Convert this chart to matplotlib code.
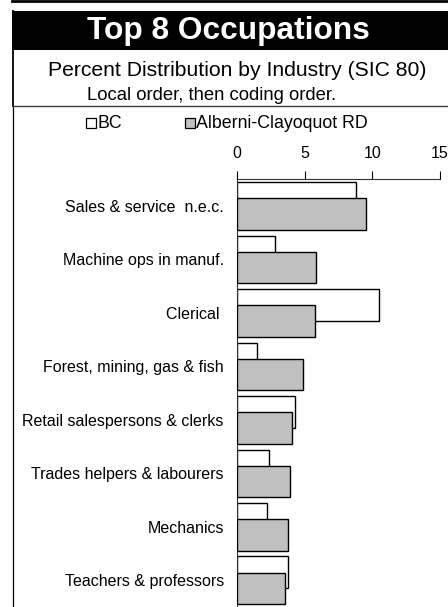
import numpy as np
import matplotlib
matplotlib.use('Agg')
import matplotlib.pyplot as plt
from matplotlib.patches import Rectangle
from matplotlib.lines import Line2D

plt.rcParams['font.family'] = ['Liberation Sans', 'DejaVu Sans']

# data (percent)
occupations = ["Sales & service  n.e.c.", "Machine ops in manuf.", "Clerical ",
               "Forest, mining, gas & fish", "Retail salespersons & clerks",
               "Trades helpers & labourers", "Mechanics", "Teachers & professors"]
bc = [8.8, 2.8, 10.5, 1.45, 4.25, 2.35, 2.25, 3.8]
alberni = [9.5, 5.85, 5.8, 4.85, 4.1, 3.95, 3.75, 3.55]
series_names = ["BC", "Alberni-Clayoquot RD"]
xticks = [0, 5, 10, 15]

W, H = 448, 607
fig = plt.figure(figsize=(W / 100, H / 100), dpi=100)

def fx(px):
    return px / W

def fy(py):
    return 1 - py / H

# frame lines and title banner
fig.add_artist(Line2D([fx(12), 1], [fy(1.3), fy(1.3)], lw=2.0, color='black'))
fig.add_artist(Rectangle((fx(12), fy(50)), 1 - fx(12), fy(11) - fy(50), color='black', lw=0))
fig.add_artist(Line2D([fx(13.3), fx(13.3)], [fy(11), fy(106)], lw=1.3, color='black'))
fig.add_artist(Line2D([fx(13), fx(13)], [fy(106), 0], lw=0.9, color='black'))
fig.add_artist(Line2D([fx(13), 1], [fy(105.8), fy(105.8)], lw=1.0, color='#404040'))

fig.text(fx(228.5), fy(30.5), "Top 8 Occupations", color='white', fontsize=22.8,
         fontweight='bold', ha='center', va='center')
fig.text(fx(237.5), fy(75.7), "Percent Distribution by Industry (SIC 80)",
         fontsize=15.2, ha='center', va='baseline')
fig.text(fx(211.7), fy(100), "Local order, then coding order.",
         fontsize=13.3, ha='center', va='baseline')

# legend drawn by hand
leg_x = [86, 185]
leg_fill = ['white', '#c0c0c0']
for name, lx, fc in zip(series_names, leg_x, leg_fill):
    fig.add_artist(Rectangle((fx(lx), fy(128)), fx(10), fy(118) - fy(128),
                             facecolor=fc, edgecolor='black', lw=0.9))
    fig.text(fx(lx + 11), fy(128.5), name, fontsize=12.8, ha='left', va='baseline')

# bar chart
ax = fig.add_axes([fx(237), 0, fx(440) - fx(237), fy(179.3)])
y = np.arange(len(occupations))
h = 0.59
ax.barh(y - 0.15, bc, height=h, color='white', edgecolor='black', lw=1.0, zorder=2)
ax.barh(y + 0.15, alberni, height=h, color='#c0c0c0', edgecolor='black', lw=1.0, zorder=3)

ax.set_xlim(0, 15)
ax.set_ylim(len(occupations) - 0.5, -0.5)
ax.xaxis.tick_top()
ax.set_xticks(xticks)
ax.tick_params(axis='x', direction='out', length=6, width=0.8, pad=7, labelsize=11.5)
ax.set_yticks(y)
ax.set_yticklabels(occupations)
ax.tick_params(axis='y', length=0, pad=9.5, labelsize=11.5)
for s in ['right', 'bottom']:
    ax.spines[s].set_visible(False)
ax.spines['top'].set_linewidth(0.8)
ax.spines['left'].set_linewidth(0.8)
ax.spines['top'].set_color('#333333')
ax.spines['left'].set_color('#333333')

fig.savefig('out.png', dpi=100)
